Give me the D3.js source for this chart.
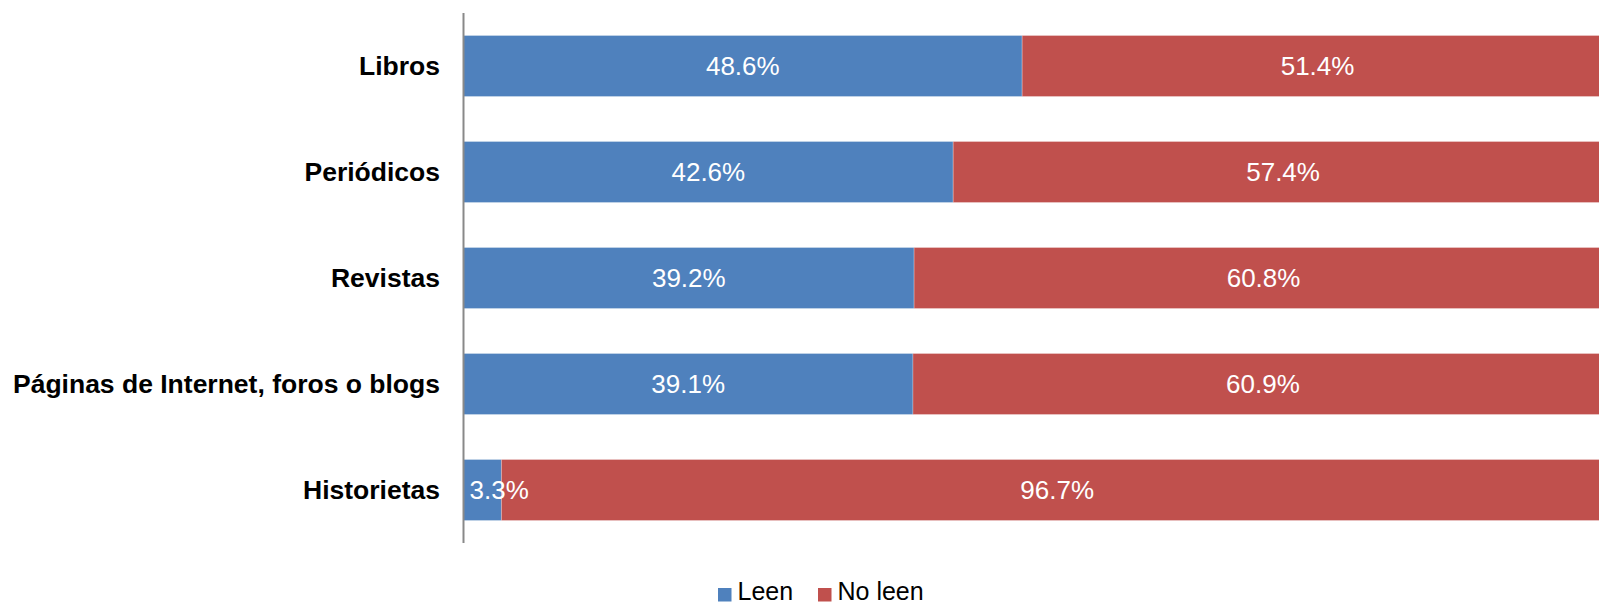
<!DOCTYPE html>
<html>
<head>
<meta charset="utf-8">
<script src="https://cdn.jsdelivr.net/npm/d3@7"></script>
<style>
  body { margin: 0; background: #fff; }
  svg { display: block; font-family: Arial, "Liberation Sans", sans-serif; }
</style>
</head>
<body>
<svg id="chart" width="1599" height="605"></svg>
<script>
var categories = ["Libros", "Periódicos", "Revistas", "Páginas de Internet, foros o blogs", "Historietas"];
var leen = [48.6, 42.6, 39.2, 39.1, 3.3];
var noLeen = [51.4, 57.4, 60.8, 60.9, 96.7];
var seriesNames = ["Leen", "No leen"];
var seriesColors = ["#4F81BD", "#C0504D"];

var svg = d3.select("#chart");

// plot area runs past the right edge, like the cropped original
var x = d3.scaleLinear().domain([0, 100]).range([463.5, 1613]);
var y = d3.scaleBand().domain(categories).range([13, 543]).paddingInner(0.425).paddingOuter(0.2125);

var segments = [];
categories.forEach(function (c, i) {
	var vals = [leen[i], noLeen[i]];
	var x0 = 0;
	vals.forEach(function (v, j) {
		segments.push({ cat: c, series: j, start: x0, value: v });
		x0 += v;
	});
});

var barLayer = svg.append("g");
var labelLayer = svg.append("g");

barLayer.selectAll("rect")
	.data(segments)
	.enter().append("rect")
	.attr("x", function (d) { return x(d.start); })
	.attr("y", function (d) { return y(d.cat); })
	.attr("width", function (d) { return x(d.start + d.value) - x(d.start); })
	.attr("height", y.bandwidth())
	.attr("fill", function (d) { return seriesColors[d.series]; })
	.attr("stroke", "#ffffff")
	.attr("stroke-opacity", 0.25)
	.attr("stroke-width", 1);

labelLayer.selectAll("text")
	.data(segments)
	.enter().append("text")
	.attr("y", function (d) { return y(d.cat) + y.bandwidth() / 2; })
	.attr("dy", "0.35em")
	.attr("fill", "#ffffff")
	.attr("font-size", 26)
	.attr("text-anchor", "middle")
	.text(function (d) { return d.value.toFixed(1) + "%"; })
	.each(function (d) {
		var left = x(d.start), right = x(d.start + d.value);
		var w = this.getComputedTextLength();
		var cx = (left + right) / 2;
		// small segments: keep the label inside from the left edge
		if (w > right - left) {
			cx = Math.max(cx, left + 6 + w / 2);
		}
		d3.select(this).attr("x", cx);
	});

// category labels
svg.selectAll("text.cat")
	.data(categories)
	.enter().append("text")
	.attr("class", "cat")
	.attr("x", 440)
	.attr("y", function (d) { return y(d) + y.bandwidth() / 2; })
	.attr("dy", "0.35em")
	.attr("text-anchor", "end")
	.attr("font-size", 26.5)
	.attr("font-weight", "bold")
	.attr("fill", "#000")
	.text(function (d) { return d; });

// vertical axis line
svg.append("line")
	.attr("x1", x(0)).attr("x2", x(0))
	.attr("y1", 13).attr("y2", 543)
	.attr("stroke", "#898989")
	.attr("stroke-width", 2);

// legend
var legendX = [718, 818];
seriesNames.forEach(function (name, i) {
	svg.append("rect")
		.attr("x", legendX[i])
		.attr("y", 588)
		.attr("width", 13.5)
		.attr("height", 13.5)
		.attr("fill", seriesColors[i]);
	svg.append("text")
		.attr("x", legendX[i] + 19.5)
		.attr("y", 600)
		.attr("font-size", 25)
		.attr("fill", "#000")
		.text(name);
});
</script>
</body>
</html>
